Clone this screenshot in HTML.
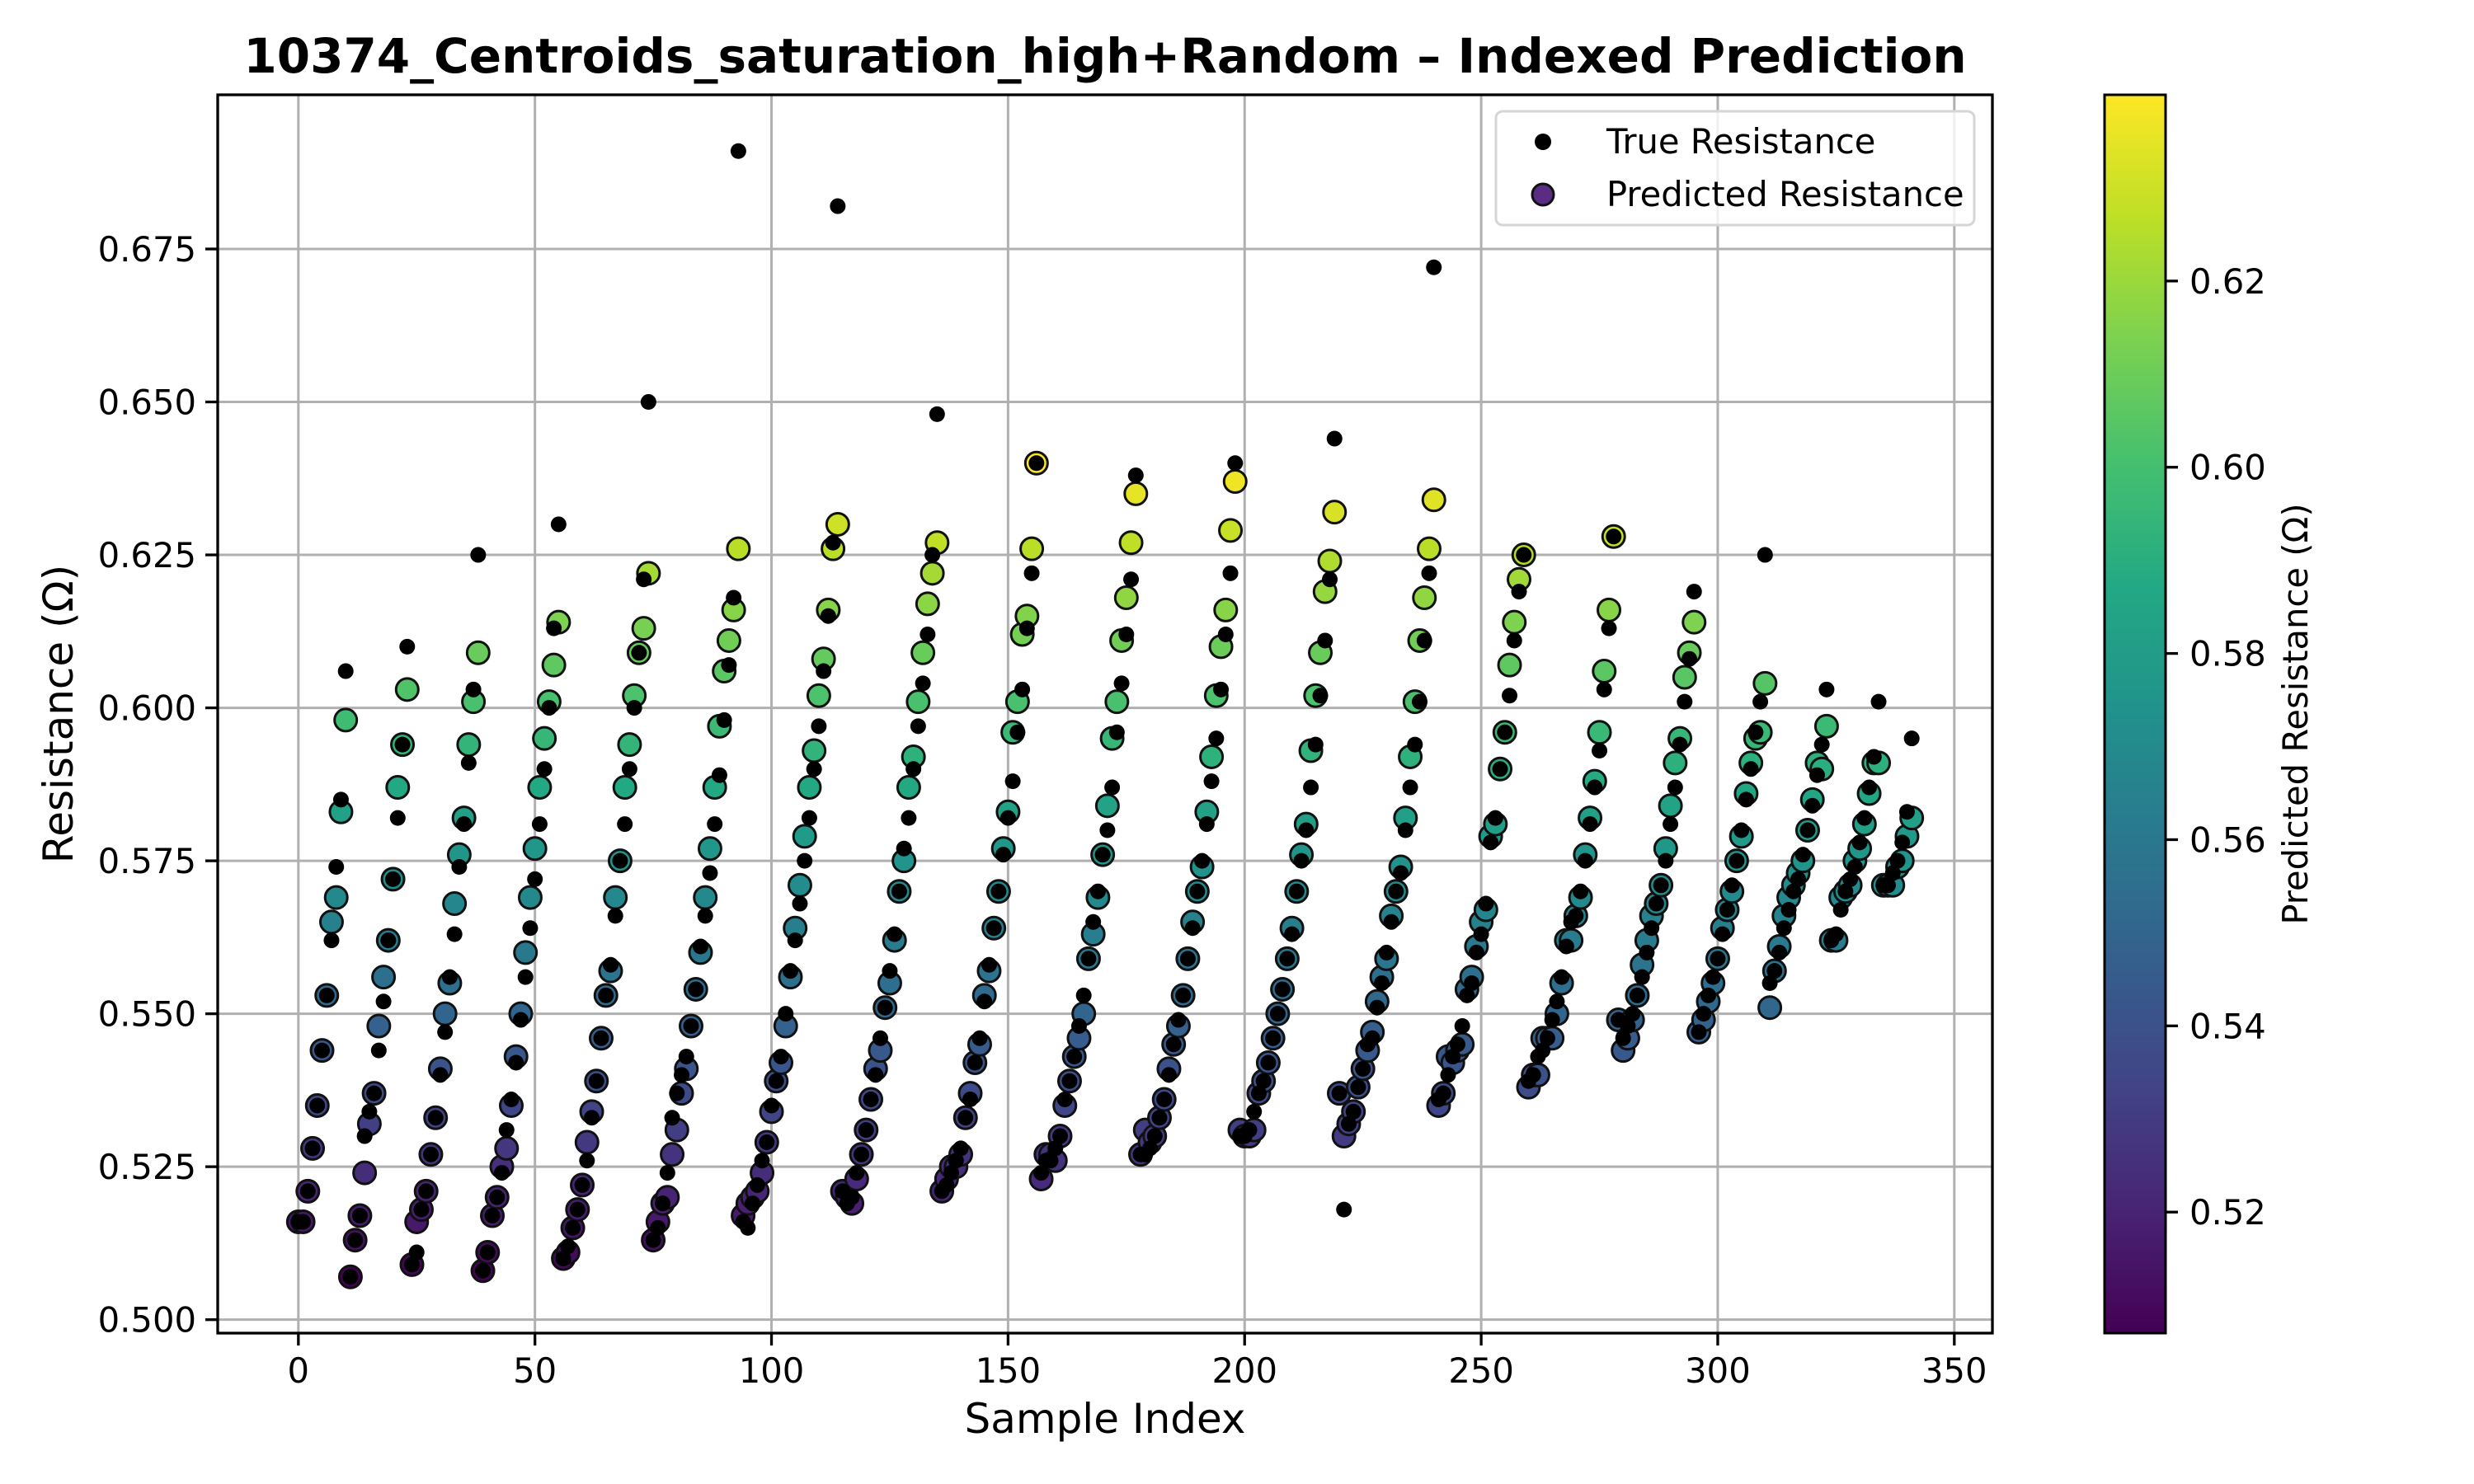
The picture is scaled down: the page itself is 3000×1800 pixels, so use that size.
<!DOCTYPE html>
<html><head><meta charset="utf-8">
<style>
html,body{margin:0;padding:0;background:#fff;}
svg{display:block;font-family:"DejaVu Sans","Liberation Sans",sans-serif;}
</style></head>
<body>
<svg id="chart" width="3000" height="1800" viewBox="0 0 3000 1800" xmlns="http://www.w3.org/2000/svg">
<rect x="0" y="0" width="3000" height="1800" fill="#fff"/>
<defs>
<linearGradient id="vir" x1="0" y1="1" x2="0" y2="0">
<stop offset="0" stop-color="#440154"/><stop offset="0.1" stop-color="#482475"/><stop offset="0.2" stop-color="#414487"/><stop offset="0.3" stop-color="#355f8d"/><stop offset="0.4" stop-color="#2a788e"/><stop offset="0.5" stop-color="#21918c"/><stop offset="0.6" stop-color="#22a884"/><stop offset="0.7" stop-color="#44bf70"/><stop offset="0.8" stop-color="#7ad151"/><stop offset="0.9" stop-color="#bddf26"/><stop offset="1" stop-color="#fde725"/>
</linearGradient>
</defs>
<g id="grid"></g>
<g id="marks"></g>
<g id="axes"></g>
<text x="1340" y="88" text-anchor="middle" font-size="58" font-weight="bold">10374_Centroids_saturation_high+Random – Indexed Prediction</text>
<text x="1340" y="1738" text-anchor="middle" font-size="50">Sample Index</text>
<text transform="translate(88,866) rotate(-90)" text-anchor="middle" font-size="50">Resistance (Ω)</text>
<g>
<rect x="1814" y="135" width="580" height="138" rx="8" fill="#fff" fill-opacity="0.8" stroke="#d6d6d6" stroke-width="3"/>
<circle cx="1871" cy="172" r="10" fill="#000"/>
<text x="1948" y="186" font-size="41.7">True Resistance</text>
<circle cx="1871" cy="236" r="13" fill="#5a2d82" stroke="#111" stroke-width="3"/>
<text x="1948" y="250" font-size="41.7">Predicted Resistance</text>
</g>
<g id="cbar">
<rect x="2552" y="115" width="74" height="1502" fill="url(#vir)" stroke="#000" stroke-width="3"/>
</g>
<text transform="translate(2798,866) rotate(-90)" text-anchor="middle" font-size="41.7">Predicted Resistance (Ω)</text>
</svg>
<script>
const xTicks=[0,50,100,150,200,250,300,350];
const yTicks=[0.500,0.525,0.550,0.575,0.600,0.625,0.650,0.675];
const cTicks=[0.52,0.54,0.56,0.58,0.60,0.62];
const trueVals=[
0.516,0.516,0.521,0.528,0.535,0.544,0.553,0.562,0.574,0.585,0.606,
0.507,0.513,0.517,0.530,0.534,0.537,0.544,0.552,0.562,0.572,0.582,0.594,0.610,
0.509,0.511,0.518,0.521,0.527,0.533,0.540,0.547,0.556,0.563,0.574,0.581,0.591,0.603,0.625,
0.508,0.511,0.517,0.520,0.524,0.531,0.536,0.542,0.549,0.556,0.564,0.572,0.581,0.590,0.600,0.613,0.630,
0.510,0.512,0.515,0.518,0.522,0.526,0.533,0.539,0.546,0.553,0.558,0.566,0.575,0.581,0.590,0.600,0.609,0.621,0.650,
0.513,0.515,0.519,0.524,0.533,0.537,0.540,0.543,0.548,0.554,0.561,0.566,0.573,0.581,0.589,0.598,0.607,0.618,0.691,
0.516,0.515,0.519,0.522,0.526,0.529,0.535,0.539,0.543,0.550,0.557,0.562,0.568,0.575,0.582,0.590,0.597,0.606,0.615,0.627,0.682,
0.521,0.519,0.520,0.524,0.527,0.531,0.536,0.540,0.546,0.551,0.557,0.563,0.570,0.577,0.582,0.590,0.597,0.604,0.612,0.625,0.648,
0.521,0.522,0.524,0.526,0.528,0.533,0.536,0.542,0.546,0.552,0.558,0.564,0.570,0.576,0.582,0.588,0.596,0.603,0.613,0.622,0.640,
0.524,0.526,0.526,0.528,0.530,0.536,0.539,0.543,0.548,0.553,0.559,0.565,0.570,0.576,0.580,0.587,0.596,0.604,0.612,0.621,0.638,
0.527,0.527,0.528,0.530,0.533,0.536,0.540,0.545,0.549,0.553,0.559,0.564,0.570,0.575,0.581,0.588,0.595,0.603,0.612,0.622,0.640,
0.530,0.530,0.531,0.534,0.537,0.539,0.542,0.546,0.550,0.554,0.559,0.563,0.570,0.575,0.580,0.587,0.594,0.602,0.611,0.621,0.644,
0.537,0.518,0.532,0.534,0.538,0.541,0.545,0.546,0.551,0.555,0.560,0.565,0.570,0.573,0.580,0.587,0.594,0.601,0.611,0.622,0.672,
0.536,0.537,0.540,0.543,0.545,0.548,0.553,0.555,0.560,0.563,0.568,0.578,0.582,0.590,0.596,0.602,0.611,0.619,0.625,
0.539,0.540,0.543,0.544,0.546,0.549,0.552,0.556,0.561,0.565,0.566,0.570,0.575,0.581,0.587,0.593,0.603,0.613,0.628,
0.549,0.546,0.548,0.550,0.553,0.556,0.560,0.564,0.568,0.571,0.575,0.581,0.587,0.594,0.601,0.608,0.619,
0.547,0.550,0.553,0.556,0.559,0.563,0.567,0.571,0.575,0.580,0.585,0.590,0.596,0.601,0.625,
0.555,0.557,0.560,0.564,0.567,0.570,0.572,0.576,0.580,0.584,0.589,0.594,0.603,
0.562,0.563,0.567,0.570,0.572,0.574,0.578,0.582,0.587,0.592,0.601,
0.571,0.571,0.573,0.575,0.578,0.583,0.595];
const predVals=[
0.516,0.516,0.521,0.528,0.535,0.544,0.553,0.565,0.569,0.583,0.598,
0.507,0.513,0.517,0.524,0.532,0.537,0.548,0.556,0.562,0.572,0.587,0.594,0.603,
0.509,0.516,0.518,0.521,0.527,0.533,0.541,0.550,0.555,0.568,0.576,0.582,0.594,0.601,0.609,
0.508,0.511,0.517,0.520,0.525,0.528,0.535,0.543,0.550,0.560,0.569,0.577,0.587,0.595,0.601,0.607,0.614,
0.510,0.511,0.515,0.518,0.522,0.529,0.534,0.539,0.546,0.553,0.557,0.569,0.575,0.587,0.594,0.602,0.609,0.613,0.622,
0.513,0.516,0.519,0.520,0.527,0.531,0.537,0.541,0.548,0.554,0.560,0.569,0.577,0.587,0.597,0.606,0.611,0.616,0.626,
0.517,0.519,0.520,0.521,0.524,0.529,0.534,0.539,0.542,0.548,0.556,0.564,0.571,0.579,0.587,0.593,0.602,0.608,0.616,0.626,0.630,
0.521,0.520,0.519,0.523,0.527,0.531,0.536,0.541,0.544,0.551,0.555,0.562,0.570,0.575,0.587,0.592,0.601,0.609,0.617,0.622,0.627,
0.521,0.523,0.525,0.525,0.527,0.533,0.537,0.542,0.545,0.553,0.557,0.564,0.570,0.577,0.583,0.596,0.601,0.612,0.615,0.626,0.640,
0.523,0.527,0.527,0.526,0.530,0.535,0.539,0.543,0.546,0.550,0.559,0.563,0.569,0.576,0.584,0.595,0.601,0.611,0.618,0.627,0.635,
0.527,0.531,0.529,0.530,0.533,0.536,0.541,0.545,0.548,0.553,0.559,0.565,0.570,0.574,0.583,0.592,0.602,0.610,0.616,0.629,0.637,
0.531,0.530,0.530,0.531,0.537,0.539,0.542,0.546,0.550,0.554,0.559,0.564,0.570,0.576,0.581,0.593,0.602,0.609,0.619,0.624,0.632,
0.537,0.530,0.532,0.534,0.538,0.541,0.544,0.547,0.552,0.556,0.559,0.566,0.570,0.574,0.582,0.592,0.601,0.611,0.618,0.626,0.634,
0.535,0.537,0.543,0.542,0.544,0.545,0.554,0.556,0.561,0.565,0.567,0.579,0.581,0.590,0.596,0.607,0.614,0.621,0.625,
0.538,0.540,0.540,0.546,0.546,0.546,0.550,0.555,0.562,0.562,0.566,0.569,0.576,0.582,0.588,0.596,0.606,0.616,0.628,
0.549,0.544,0.546,0.549,0.553,0.558,0.562,0.566,0.568,0.571,0.577,0.584,0.591,0.595,0.605,0.609,0.614,
0.547,0.549,0.552,0.555,0.559,0.564,0.567,0.570,0.575,0.579,0.586,0.591,0.595,0.596,0.604,
0.551,0.557,0.561,0.566,0.569,0.571,0.573,0.575,0.580,0.585,0.591,0.590,0.597,
0.562,0.562,0.569,0.570,0.571,0.575,0.577,0.581,0.586,0.591,0.591,
0.571,0.571,0.571,0.574,0.575,0.579,0.582];

const NS="http://www.w3.org/2000/svg";
const L=264,R=2416,T=115,B=1617;
const n=predVals.length;
const xMin=-0.05*(n-1),xMax=(n-1)*1.05;
const allV=trueVals.concat(predVals);
const dMin=Math.min(...allV),dMax=Math.max(...allV);
const yMin=dMin-0.05*(dMax-dMin),yMax=dMax+0.05*(dMax-dMin);
const cMin=Math.min(...predVals),cMax=Math.max(...predVals);
function sx(v){return L+(v-xMin)/(xMax-xMin)*(R-L);}
function sy(v){return B-(v-yMin)/(yMax-yMin)*(B-T);}
function cy(v){return B-(v-cMin)/(cMax-cMin)*(B-T);}
const vir=["#440154","#482475","#414487","#355f8d","#2a788e","#21918c","#22a884","#44bf70","#7ad151","#bddf26","#fde725"];
function hex(h){return[parseInt(h.substr(1,2),16),parseInt(h.substr(3,2),16),parseInt(h.substr(5,2),16)];}
function color(v){let t=(v-cMin)/(cMax-cMin);t=Math.max(0,Math.min(1,t))*10;const i=Math.min(9,Math.floor(t)),f=t-i;const a=hex(vir[i]),b=hex(vir[i+1]);return"rgb("+a.map((c,k)=>Math.round(c+(b[k]-c)*f)).join(",")+")";}
function mk(tag,attrs,parent){const e=document.createElementNS(NS,tag);for(const k in attrs)e.setAttribute(k,attrs[k]);parent.appendChild(e);return e;}
const grid=document.getElementById('grid'),marks=document.getElementById('marks'),axes=document.getElementById('axes'),cbar=document.getElementById('cbar');
xTicks.forEach(t=>{const x=sx(t);
const g=mk('line',{x1:x,x2:x,y1:T,y2:B,stroke:'#b0b0b0','stroke-width':3},grid);


const tk=mk('line',{x1:x,x2:x,y1:B,y2:B+15,stroke:'#000','stroke-width':3.3},axes);


const lb=mk('text',{x:x,y:B+60,'text-anchor':'middle','font-size':41.7},axes);lb.textContent=t;


});
yTicks.forEach(t=>{const y=sy(t);
const g=mk('line',{x1:L,x2:R,y1:y,y2:y,stroke:'#b0b0b0','stroke-width':3},grid);


const tk=mk('line',{x1:L-15,x2:L,y1:y,y2:y,stroke:'#000','stroke-width':3.3},axes);


const lb=mk('text',{x:L-26,y:y+15,'text-anchor':'end','font-size':41.7},axes);lb.textContent=t.toFixed(3);


});
const frame=mk('rect',{x:L,y:T,width:R-L,height:B-T,fill:'none',stroke:'#000','stroke-width':3.3},axes);


predVals.forEach((v,i)=>{const c=mk('circle',{cx:sx(i),cy:sy(v),r:13.5,fill:color(v),stroke:'#111','stroke-width':3},marks);


});
trueVals.forEach((v,i)=>{const c=mk('circle',{cx:sx(i),cy:sy(v),r:9.5,fill:'#000'},marks);


});
cTicks.forEach(t=>{const y=cy(t);
const tk=mk('line',{x1:2626,x2:2641,y1:y,y2:y,stroke:'#000','stroke-width':3.3},cbar);


const lb=mk('text',{x:2655,y:y+15,'font-size':41.7},cbar);lb.textContent=t.toFixed(2);


});
</script>
</body></html>
